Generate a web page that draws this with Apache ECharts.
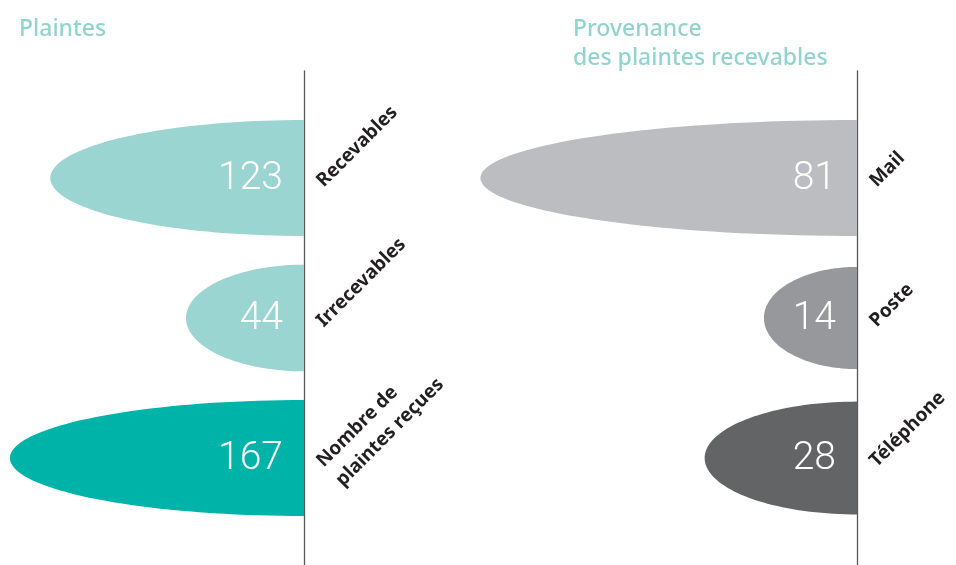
<!DOCTYPE html>
<html>
<head>
<meta charset="utf-8">
<script src="https://cdn.jsdelivr.net/npm/echarts@6/dist/echarts.min.js"></script>
<style>
  html, body { margin: 0; padding: 0; background: #ffffff; }
  #chart { width: 956px; height: 565px; }
</style>
</head>
<body>
<div id="chart"></div>
<script>
// Plaintes (complaints) by admissibility
const plaintesCategories = ['Recevables', 'Irrecevables', 'Nombre de\nplaintes reçues'];
const plaintesValues = [123, 44, 167];

// Origin of the admissible complaints
const provenanceCategories = ['Mail', 'Poste', 'Téléphone'];
const provenanceValues = [81, 14, 28];

// Panel titles
const titleLeft = 'Plaintes';
const titleRight = 'Provenance\ndes plaintes recevables';

// Palettes
const plaintesPalette = ['#9ad5d2', '#9ad5d2', '#00b3a9'];
const provenancePalette = ['#bcbdc0', '#97989b', '#636466'];

const chart = echarts.init(document.getElementById('chart'), null, { renderer: 'canvas' });

// Each mark is the left half of an ellipse whose left tip sits on the value
function halfEllipseRenderer(categories, values, palette) {
  return function (params, api) {
    const idx = api.value(1);
    const v = api.value(0);
    const cs = params.coordSys;
    const axisX = cs.x + cs.width;           // axis line (minimum of the inverted x axis)
    const tip = api.coord([v, idx]);
    const cy = tip[1];
    const rx = axisX - tip[0];
    const ry = (116 - Math.max(0, 170 - rx) * 0.18) / 2;
    const pts = [];
    const n = 80;
    for (let k = 0; k <= n; k++) {
      const t = -Math.PI / 2 + Math.PI * k / n;
      pts.push([axisX - rx * Math.cos(t), cy + ry * Math.sin(t)]);
    }
    const i = params.dataIndex;
    const labelLH = 27;
    return {
      type: 'group',
      children: [
        {
          type: 'polygon',
          shape: { points: pts },
          style: { fill: palette[i] }
        },
        {
          type: 'text',
          x: axisX - 21,
          y: cy + 1,
          style: {
            text: String(values[i]),
            fill: '#ffffff',
            fontFamily: 'Roboto, Lato, "Open Sans", sans-serif',
            fontWeight: 300,
            fontSize: 39,
            align: 'right',
            verticalAlign: 'middle'
          }
        },
        {
          type: 'text',
          x: axisX + 16,
          y: cy + 6,
          rotation: Math.PI / 4,
          style: {
            text: categories[i],
            x: 0,
            y: -labelLH / 2,
            fill: '#231f20',
            fontFamily: '"Noto Sans", "Open Sans", sans-serif',
            fontWeight: 'bold',
            fontSize: 19,
            lineHeight: labelLH,
            align: 'left',
            verticalAlign: 'top'
          }
        }
      ]
    };
  };
}

const hiddenY = {
  type: 'value',
  inverse: true,
  min: -0.764,
  max: 2.764,
  position: 'right',
  axisLine: { show: true, onZero: false, lineStyle: { color: '#58585a', width: 1.3 } },
  axisTick: { show: false },
  axisLabel: { show: false },
  splitLine: { show: false }
};

const titleStyle = {
  color: '#93d3cf',
  fontFamily: '"Noto Sans", "Open Sans", sans-serif',
  fontWeight: 500,
  fontSize: 23,
  lineHeight: 29
};

chart.setOption({
  animation: false,
  backgroundColor: '#ffffff',
  title: [
    { text: titleLeft, left: 19, top: 15, padding: 0, textStyle: titleStyle },
    { text: titleRight, left: 573, top: 15, padding: 0, textStyle: titleStyle }
  ],
  grid: [
    { left: 0, right: 652, top: 71, bottom: 0 },
    { left: 400, right: 99, top: 71, bottom: 0 }
  ],
  xAxis: [
    { gridIndex: 0, type: 'log', logBase: 10, inverse: true, min: 18, max: 180, show: false },
    { gridIndex: 1, type: 'value', inverse: true, min: -8, max: 100, show: false }
  ],
  yAxis: [
    Object.assign({ gridIndex: 0 }, hiddenY),
    Object.assign({ gridIndex: 1 }, hiddenY)
  ],
  series: [
    {
      type: 'custom',
      name: 'Plaintes',
      xAxisIndex: 0,
      yAxisIndex: 0,
      clip: false,
      renderItem: halfEllipseRenderer(plaintesCategories, plaintesValues, plaintesPalette),
      encode: { x: 0, y: 1 },
      data: plaintesValues.map((v, i) => [v, i])
    },
    {
      type: 'custom',
      name: 'Provenance',
      xAxisIndex: 1,
      yAxisIndex: 1,
      clip: false,
      renderItem: halfEllipseRenderer(provenanceCategories, provenanceValues, provenancePalette),
      encode: { x: 0, y: 1 },
      data: provenanceValues.map((v, i) => [v, i])
    }
  ]
});
</script>
</body>
</html>
